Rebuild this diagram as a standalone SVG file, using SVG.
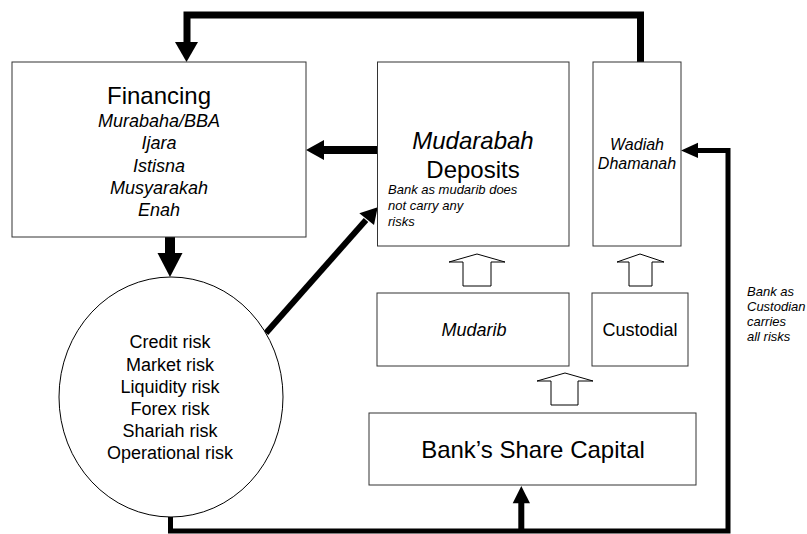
<svg xmlns="http://www.w3.org/2000/svg" width="807" height="534" viewBox="0 0 807 534">
<style>
.box{fill:#fff;stroke:#333;stroke-width:1}
.circ{fill:#fff;stroke:#000;stroke-width:1}
.t{font-family:"Liberation Sans",Arial,sans-serif;fill:#000;text-anchor:middle}
.i{font-style:italic}
.l{text-anchor:start}
.line{fill:none;stroke:#000;stroke-linejoin:miter;stroke-linecap:butt}
.head{fill:#000;stroke:none}
.block{fill:#fff;stroke:#000;stroke-width:1}
</style>
<rect width="807" height="534" fill="#fff"/>
<g id="connectors">
  <path class="line" stroke-width="7" d="M640.5,62 V15 H187 V44"/>
  <polygon class="head" points="175,42 198,42 186.5,62"/>
  <path class="line" stroke-width="8" d="M377,150 H322"/>
  <polygon class="head" points="324,140 324,160 306,150"/>
  <path class="line" stroke-width="10" d="M170,237 V255"/>
  <polygon class="head" points="157.5,253 182.5,253 170,277"/>
  <path class="line" stroke-width="6" d="M266,333 L366,220"/>
  <polygon class="head" points="377.7,207.3 374,225 359.3,213.3"/>
  <path class="line" stroke-width="5" d="M170.5,517 V531 H728 V150.5 H696"/>
  <polygon class="head" points="698,142.7 698,158 681,150.5"/>
  <path class="line" stroke-width="6" d="M521.3,531 V501"/>
  <polygon class="head" points="512.7,503.3 530,503.3 521.3,486"/>
  <polygon class="block" points="477,254 505,262 491,262 491,286 463,286 463,262 449,262"/>
  <polygon class="block" points="640,254 664,262 652,262 652,286 629,286 629,262 617,262"/>
  <polygon class="block" points="565,373 593,381 578,381 578,405 551,405 551,381 537,381"/>
</g>
<g id="financing">
  <rect class="box" x="12" y="62" width="294" height="175"/>
  <text class="t" x="159" y="104" font-size="24">Financing</text>
  <text class="t i" x="159" y="127" font-size="18">Murabaha/BBA</text>
  <text class="t i" x="159" y="149" font-size="18">Ijara</text>
  <text class="t i" x="159" y="172" font-size="18">Istisna</text>
  <text class="t i" x="159" y="194" font-size="18">Musyarakah</text>
  <text class="t i" x="159" y="216" font-size="18">Enah</text>
</g>
<g id="mudarabah">
  <rect class="box" x="377.5" y="62" width="191.5" height="184"/>
  <text class="t i" x="473" y="149" font-size="24">Mudarabah</text>
  <text class="t" x="473" y="178" font-size="24">Deposits</text>
  <text class="t i l" x="388" y="194" font-size="13">Bank as mudarib does</text>
  <text class="t i l" x="388" y="210" font-size="13">not carry any</text>
  <text class="t i l" x="388" y="226" font-size="13">risks</text>
</g>
<g id="wadiah">
  <rect class="box" x="593" y="62" width="88" height="184"/>
  <text class="t i" x="637" y="150" font-size="16">Wadiah</text>
  <text class="t i" x="637" y="169" font-size="16">Dhamanah</text>
</g>
<g id="risks">
  <ellipse class="circ" cx="171" cy="397" rx="112" ry="120"/>
  <text class="t" x="170" y="348" font-size="18">Credit risk</text>
  <text class="t" x="170" y="371" font-size="18">Market risk</text>
  <text class="t" x="170" y="393" font-size="18">Liquidity risk</text>
  <text class="t" x="170" y="415" font-size="18">Forex risk</text>
  <text class="t" x="170" y="437" font-size="18">Shariah risk</text>
  <text class="t" x="170" y="459" font-size="18">Operational risk</text>
</g>
<g id="mudarib">
  <rect class="box" x="377" y="293" width="192" height="73"/>
  <text class="t i" x="474" y="336" font-size="18">Mudarib</text>
</g>
<g id="custodial">
  <rect class="box" x="592" y="293" width="96" height="73"/>
  <text class="t" x="640" y="336" font-size="18">Custodial</text>
</g>
<g id="share-capital">
  <rect class="box" x="369" y="413" width="327" height="72"/>
  <text class="t" x="533" y="458" font-size="24">Bank’s Share Capital</text>
</g>
<g id="custodian-note">
  <text class="t i l" x="747" y="296" font-size="13">Bank as</text>
  <text class="t i l" x="747" y="311" font-size="13">Custodian</text>
  <text class="t i l" x="747" y="326" font-size="13">carries</text>
  <text class="t i l" x="747" y="341" font-size="13">all risks</text>
</g>
</svg>
